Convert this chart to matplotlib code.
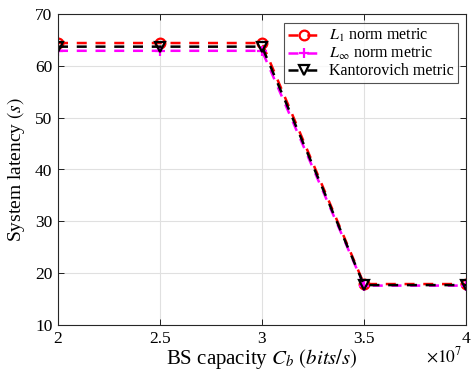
import matplotlib
matplotlib.use("Agg")
import matplotlib.pyplot as plt
import numpy as np

plt.rcParams['font.family'] = ['Liberation Serif', 'DejaVu Serif']
plt.rcParams['mathtext.fontset'] = 'stix'

capacity = [2.0e7, 2.5e7, 3.0e7, 3.5e7, 4.0e7]
l1_latency = [64.4, 64.4, 64.4, 17.9, 17.9]
linf_latency = [62.9, 62.9, 62.9, 17.6, 17.6]
kant_latency = [63.7, 63.7, 63.7, 17.7, 17.7]
labels = [r'$L_1$ norm metric', r'$L_\infty$ norm metric', 'Kantorovich metric']

fig = plt.figure(figsize=(4.71, 3.72), dpi=100)
ax = fig.add_axes([58/471, 47/372, (466-58)/471, (325-14)/372])

dash = (0, (4, 3.5))
ax.plot(capacity, l1_latency, color='red', ls=dash, lw=1.8, marker='o', ms=7,
        mfc='none', mew=1.6, label=labels[0])
ax.plot(capacity, linf_latency, color='magenta', ls=dash, lw=1.8, marker='+', ms=7,
        mew=1.6, label=labels[1])
ax.plot(capacity, kant_latency, color='black', ls=dash, lw=1.8, marker='v', ms=7,
        mfc='none', mew=1.6, label=labels[2])

ax.set_xlim(2e7, 4e7)
ax.set_ylim(10, 70)
ax.set_xticks([2e7, 2.5e7, 3e7, 3.5e7, 4e7])
ax.set_xticklabels(['2', '2.5', '3', '3.5', '4'])
ax.set_yticks(np.arange(10, 71, 10))
ax.grid(True, color='#e0e0e0', lw=0.8)
ax.set_axisbelow(True)
ax.tick_params(direction='in', top=True, right=True, labelsize=12.5, length=4, width=0.6, pad=4)
for s in ax.spines.values():
    s.set_linewidth(0.8)
    s.set_color('#262626')

ax.set_xlabel(r'BS capacity $C_b$ $(bits/s)$', fontsize=15, labelpad=0)
ax.set_ylabel(r'System latency $(s)$', fontsize=14, labelpad=6)
ax.text(0.99, -0.068, r'$\times 10^7$', transform=ax.transAxes, ha='right', va='top', fontsize=12.5)

leg = ax.legend(loc='upper right', fontsize=11.5, frameon=True, fancybox=False,
                edgecolor='#262626', handlelength=2.0, borderpad=0.25, labelspacing=0.05,
                handletextpad=0.6, bbox_to_anchor=(0.98, 0.97), borderaxespad=0)
leg.get_frame().set_linewidth(0.8)

fig.savefig('out.png', dpi=100)
